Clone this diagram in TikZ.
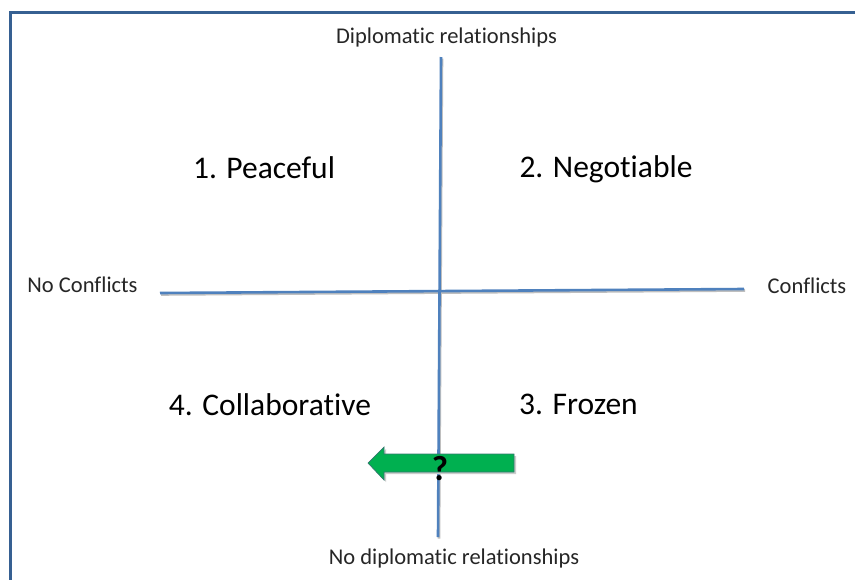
\documentclass[tikz,border=0pt]{standalone}
\usepackage{fontspec}
\setmainfont{Carlito}[Ligatures=NoCommon]
\definecolor{axisblue}{RGB}{79,129,189}
\definecolor{framblue}{RGB}{54,96,146}
\definecolor{arrowgreen}{RGB}{0,176,80}
\definecolor{arrowedge}{RGB}{50,120,110}
\begin{document}
\begin{tikzpicture}[x=1pt,y=-1pt,
  axislabel/.style={font=\fontsize{22.5}{26}\selectfont, text=black!85, inner sep=0pt, anchor=base},
  quadlabel/.style={font=\fontsize{31.5}{36}\selectfont, text=black, inner sep=0pt, anchor=base},
  axisline/.style={draw=axisblue, line width=2.6pt},
  shadowline/.style={draw=black!25, line width=2.6pt}]
\useasboundingbox (0,0) rectangle (855,579);
\fill[white] (0,0) rectangle (855,579);
% frame
\draw[framblue, line width=2.6pt] (10.5,580) -- (10.5,12.5) -- (856,12.5);
% coordinates of axes
\coordinate (vtop) at (441,57);
\coordinate (vbot) at (438,537);
\coordinate (hl) at (160,293);
\coordinate (hr) at (744,289);
% shadows
\draw[shadowline] ([shift={(1,1.5)}]vtop) -- ([shift={(1,1.5)}]vbot);
\draw[shadowline] ([shift={(1,1.5)}]hl) -- ([shift={(1,1.5)}]hr);
% axes
\draw[axisline] (vtop) -- (vbot);
\draw[axisline] (hl) -- (hr);
% axis labels
\node[axislabel] (top) at (446.5,43) {Diplomatic relationships};
\node[axislabel] (bot) at (454,564) {No diplomatic relationships};
\node[axislabel] (left) at (82.5,292) {No Conflicts};
\node[axislabel] (right) at (807,293) {Conflicts};
% quadrant labels
\node[quadlabel] (q1) at (264,178) {1. Peaceful};
\node[quadlabel] (q2) at (606,177) {2. Negotiable};
\node[quadlabel] (q4) at (270,415) {4. Collaborative};
\node[quadlabel] (q3) at (578.5,414) {3. Frozen};
% green arrow
\fill[black!20] (516,456) -- (516,474) -- (386,474) -- (386,482) -- (370,465) -- (386,449) -- (386,456) -- cycle;
\draw[arrowedge, fill=arrowgreen, line width=0.7pt, line join=miter]
  (514,454) -- (514,472) -- (384,472) -- (384,480) -- (368,463) -- (384,447) -- (384,454) -- cycle;
\node[font=\fontsize{35}{40}\selectfont\bfseries, inner sep=0pt, anchor=base] (q) at (440,480) {?};
\end{tikzpicture}
\end{document}
